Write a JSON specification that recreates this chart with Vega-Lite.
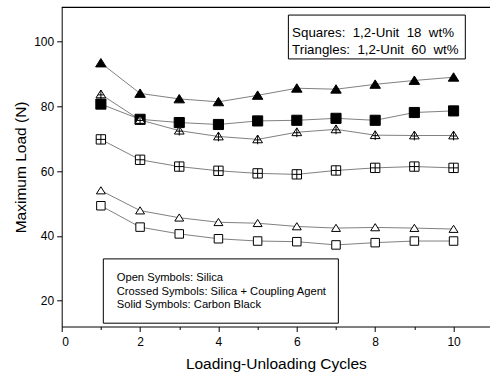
{
  "$schema": "https://vega.github.io/schema/vega-lite/v6.json",
  "autosize": "none",
  "width": 428.3,
  "height": 319.2,
  "padding": {"left": 61.7, "top": 7.3, "right": 0, "bottom": 49.5},
  "background": "white",
  "config": {
    "view": {"stroke": null},
    "font": "Liberation Sans",
    "axis": {
      "grid": false,
      "domainColor": "black",
      "tickColor": "black",
      "labelColor": "black",
      "titleColor": "black",
      "labelFont": "Liberation Sans",
      "titleFont": "Liberation Sans",
      "labelFontSize": 12,
      "titleFontSize": 15.5,
      "titleFontWeight": "normal",
      "domainWidth": 1,
      "tickWidth": 1
    }
  },
  "datasets": {
    "loads": [
      {"s": "ST", "x": 1, "y": 93.4}, {"s": "ST", "x": 2, "y": 84.0}, {"s": "ST", "x": 3, "y": 82.3}, {"s": "ST", "x": 4, "y": 81.4}, {"s": "ST", "x": 5, "y": 83.4},
      {"s": "ST", "x": 6, "y": 85.6}, {"s": "ST", "x": 7, "y": 85.3}, {"s": "ST", "x": 8, "y": 86.8}, {"s": "ST", "x": 9, "y": 88.0}, {"s": "ST", "x": 10, "y": 89.0},
      {"s": "SS", "x": 1, "y": 80.7}, {"s": "SS", "x": 2, "y": 76.0}, {"s": "SS", "x": 3, "y": 75.0}, {"s": "SS", "x": 4, "y": 74.4}, {"s": "SS", "x": 5, "y": 75.5},
      {"s": "SS", "x": 6, "y": 75.7}, {"s": "SS", "x": 7, "y": 76.3}, {"s": "SS", "x": 8, "y": 75.7}, {"s": "SS", "x": 9, "y": 78.1}, {"s": "SS", "x": 10, "y": 78.6},
      {"s": "CT", "x": 1, "y": 83.7}, {"s": "CT", "x": 2, "y": 75.8}, {"s": "CT", "x": 3, "y": 72.5}, {"s": "CT", "x": 4, "y": 70.7}, {"s": "CT", "x": 5, "y": 69.8},
      {"s": "CT", "x": 6, "y": 72.0}, {"s": "CT", "x": 7, "y": 72.9}, {"s": "CT", "x": 8, "y": 71.1}, {"s": "CT", "x": 9, "y": 71.0}, {"s": "CT", "x": 10, "y": 71.0},
      {"s": "CS", "x": 1, "y": 69.8}, {"s": "CS", "x": 2, "y": 63.5}, {"s": "CS", "x": 3, "y": 61.4}, {"s": "CS", "x": 4, "y": 60.1}, {"s": "CS", "x": 5, "y": 59.3},
      {"s": "CS", "x": 6, "y": 59.0}, {"s": "CS", "x": 7, "y": 60.2}, {"s": "CS", "x": 8, "y": 61.0}, {"s": "CS", "x": 9, "y": 61.4}, {"s": "CS", "x": 10, "y": 61.0},
      {"s": "OT", "x": 1, "y": 54.0}, {"s": "OT", "x": 2, "y": 47.8}, {"s": "OT", "x": 3, "y": 45.6}, {"s": "OT", "x": 4, "y": 44.2}, {"s": "OT", "x": 5, "y": 43.9},
      {"s": "OT", "x": 6, "y": 42.9}, {"s": "OT", "x": 7, "y": 42.4}, {"s": "OT", "x": 8, "y": 42.6}, {"s": "OT", "x": 9, "y": 42.4}, {"s": "OT", "x": 10, "y": 42.1},
      {"s": "OS", "x": 1, "y": 49.3}, {"s": "OS", "x": 2, "y": 42.7}, {"s": "OS", "x": 3, "y": 40.6}, {"s": "OS", "x": 4, "y": 39.1}, {"s": "OS", "x": 5, "y": 38.4},
      {"s": "OS", "x": 6, "y": 38.2}, {"s": "OS", "x": 7, "y": 37.2}, {"s": "OS", "x": 8, "y": 37.9}, {"s": "OS", "x": 9, "y": 38.4}, {"s": "OS", "x": 10, "y": 38.4}
    ]
  },
  "layer": [
    {
      "data": {"name": "loads"},
      "mark": {"type": "line", "stroke": "#606060", "strokeWidth": 0.8},
      "encoding": {
        "x": {
          "field": "x", "type": "quantitative",
          "scale": {"domain": [0, 10.93], "nice": false, "zero": false},
          "axis": {
            "title": "Loading-Unloading Cycles",
            "values": [0, 1, 2, 3, 4, 5, 6, 7, 8, 9, 10],
            "labelExpr": "datum.value % 2 == 0 ? datum.label : ''",
            "tickSize": {"condition": {"test": "datum.value % 2 == 1", "value": 3}, "value": 5},
            "labelPadding": 5,
            "titlePadding": 9
          }
        },
        "y": {
          "field": "y", "type": "quantitative",
          "scale": {"domain": [12, 110.6], "nice": false, "zero": false},
          "axis": {
            "title": "Maximum Load (N)",
            "values": [20, 30, 40, 50, 60, 70, 80, 90, 100, 110],
            "labelExpr": "datum.value % 20 == 0 ? datum.label : ''",
            "tickSize": {"condition": {"test": "datum.value % 20 == 10", "value": 3}, "value": 5},
            "labelPadding": 3,
            "titlePadding": 5
          }
        },
        "detail": {"field": "s"}
      }
    },
    {
      "data": {"values": [{}]},
      "mark": {"type": "rule", "stroke": "black", "strokeWidth": 1.2},
      "encoding": {
        "x": {"datum": 0, "type": "quantitative"},
        "x2": {"datum": 10.93},
        "y": {"datum": 110.6, "type": "quantitative"}
      }
    },
    {
      "data": {"name": "loads"},
      "mark": {"type": "point", "filled": true, "stroke": "black", "strokeWidth": 1, "opacity": 1},
      "encoding": {
        "x": {"field": "x", "type": "quantitative"},
        "y": {"field": "y", "type": "quantitative"},
        "shape": {
          "field": "s", "legend": null,
          "scale": {
            "domain": ["ST", "SS", "CT", "CS", "OT", "OS"],
            "range": [
              "M0,-0.85L1,0.75H-1Z",
              "M-1,-1H1V1H-1Z",
              "M0,-0.9L1,0.7H-1Z M0,-0.9V1 M-0.6,0.1H0.6",
              "M-1,-1H1V1H-1Z M0,-1V1 M-1,0H1",
              "M0,-0.85L1,0.75H-1Z",
              "M-1,-1H1V1H-1Z"
            ]
          }
        },
        "fill": {
          "field": "s", "legend": null,
          "scale": {
            "domain": ["ST", "SS", "CT", "CS", "OT", "OS"],
            "range": ["black", "black", "white", "white", "white", "white"]
          }
        },
        "size": {
          "field": "s", "type": "nominal", "legend": null,
          "scale": {
            "domain": ["ST", "SS", "CT", "CS", "OT", "OS"],
            "range": [110, 72, 90, 64, 80, 56]
          }
        }
      }
    },
    {
      "data": {"values": [{}]},
      "mark": {"type": "rect", "fill": "white", "stroke": "black", "strokeWidth": 1},
      "encoding": {
        "x": {"datum": 5.785, "type": "quantitative"},
        "x2": {"datum": 10.3},
        "y": {"datum": 94.65, "type": "quantitative"},
        "y2": {"datum": 108.2}
      }
    },
    {
      "data": {"values": [{}]},
      "mark": {"type": "rect", "fill": "white", "stroke": "black", "strokeWidth": 1},
      "encoding": {
        "x": {"datum": 1.062, "type": "quantitative"},
        "x2": {"datum": 7.06},
        "y": {"datum": 13.02, "type": "quantitative"},
        "y2": {"datum": 32.88}
      }
    },
    {
      "data": {"values": [{"t": "Squares: \u00a01,2-Unit \u00a018 \u00a0wt%", "ty": 102.8}, {"t": "Triangles: \u00a01,2-Unit \u00a060 \u00a0wt%", "ty": 97.4}]},
      "mark": {"type": "text", "align": "left", "baseline": "middle", "fontSize": 13.3, "font": "Liberation Sans", "color": "black"},
      "encoding": {
        "x": {"datum": 5.88, "type": "quantitative"},
        "y": {"field": "ty", "type": "quantitative"},
        "text": {"field": "t"}
      }
    },
    {
      "data": {"values": [{"t": "Open Symbols: Silica", "ty": 26.9}, {"t": "Crossed Symbols: Silica + Coupling Agent", "ty": 22.6}, {"t": "Solid Symbols: Carbon Black", "ty": 18.7}]},
      "mark": {"type": "text", "align": "left", "baseline": "middle", "fontSize": 11.2, "font": "Liberation Sans", "color": "black"},
      "encoding": {
        "x": {"datum": 1.404, "type": "quantitative"},
        "y": {"field": "ty", "type": "quantitative"},
        "text": {"field": "t"}
      }
    }
  ]
}
